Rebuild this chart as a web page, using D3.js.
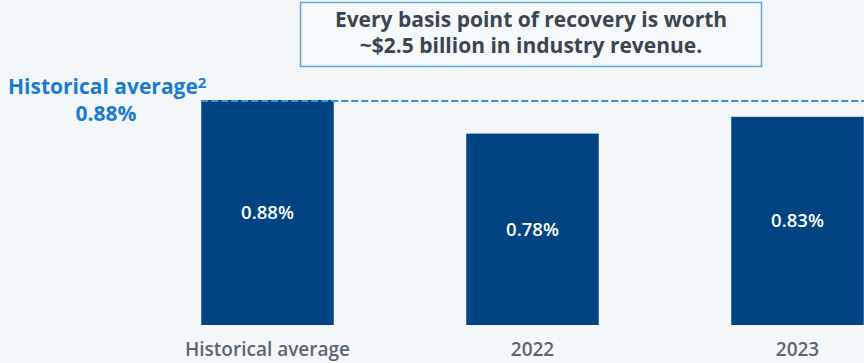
<!DOCTYPE html>
<html>
<head>
<meta charset="utf-8">
<script src="https://cdn.jsdelivr.net/npm/d3@7"></script>
<style>
  html, body { margin: 0; padding: 0; background: #f4f7fa; }
  svg { display: block; font-family: "Open Sans", Lato, sans-serif; }
</style>
</head>
<body>
<svg id="chart" width="864" height="363"></svg>
<script>
// Fee rate by period (percent)
const categories = ["Historical average", "2022", "2023"];
const values = [0.88, 0.78, 0.83];
const valueLabels = ["0.88%", "0.78%", "0.83%"];
const referenceValue = 0.88;
const referenceLabel = "0.88%";
const calloutLines = ["Every basis point of recovery is worth", "~$2.5 billion in industry revenue."];

const svg = d3.select("#chart");
const W = 864, H = 363;

const x = d3.scaleBand()
  .domain(categories)
  .range([135, 930])
  .paddingInner(0.5)
  .paddingOuter(0.25);

// truncated value axis, baseline sits at the bottom of the bars
const y = d3.scaleLinear().domain([0.21, 0.88]).range([325, 100]);

const barColor = "#004482";

// bars
svg.selectAll("rect.bar")
  .data(values)
  .join("rect")
  .attr("class", "bar")
  .attr("x", (d, i) => x(categories[i]))
  .attr("y", d => y(d))
  .attr("width", x.bandwidth())
  .attr("height", d => y.range()[0] - y(d))
  .attr("fill", barColor);

// value labels centered in bars
svg.selectAll("text.val")
  .data(values)
  .join("text")
  .attr("class", "val")
  .attr("x", (d, i) => x(categories[i]) + x.bandwidth() / 2)
  .attr("y", d => (y(d) + y.range()[0]) / 2)
  .attr("dy", "0.35em")
  .attr("text-anchor", "middle")
  .attr("fill", "#ffffff")
  .attr("font-weight", 600)
  .attr("font-size", 18.5)
  .text((d, i) => valueLabels[i]);

// category axis labels
svg.selectAll("text.cat")
  .data(categories)
  .join("text")
  .attr("class", "cat")
  .attr("x", d => x(d) + x.bandwidth() / 2)
  .attr("y", 356)
  .attr("text-anchor", "middle")
  .attr("fill", "#5a6570")
  .attr("font-weight", 600)
  .attr("font-size", 19)
  .text(d => d);

// historical average reference line
svg.append("line")
  .attr("x1", x(categories[0]))
  .attr("x2", W)
  .attr("y1", y(referenceValue) + 1)
  .attr("y2", y(referenceValue) + 1)
  .attr("stroke", "#3b90d8")
  .attr("stroke-width", 2)
  .attr("stroke-dasharray", "7,3");

// reference label
const refText = svg.append("text")
  .attr("x", 8)
  .attr("y", 94)
  .attr("fill", "#1a7bcf")
  .attr("font-weight", 700)
  .attr("font-size", 21);
refText.append("tspan").text("Historical average");
refText.append("tspan").attr("font-size", 15).attr("dy", -6).text("2");

svg.append("text")
  .attr("x", 106)
  .attr("y", 121)
  .attr("text-anchor", "middle")
  .attr("fill", "#1a7bcf")
  .attr("font-weight", 700)
  .attr("font-size", 21)
  .text(referenceLabel);

// callout box
svg.append("rect")
  .attr("x", 300.5)
  .attr("y", 2.5)
  .attr("width", 461)
  .attr("height", 64)
  .attr("fill", "#f6f9fb")
  .attr("stroke", "#5da5dc")
  .attr("stroke-width", 1.5);

svg.selectAll("text.callout")
  .data(calloutLines)
  .join("text")
  .attr("class", "callout")
  .attr("x", 531)
  .attr("y", (d, i) => 27 + i * 26)
  .attr("text-anchor", "middle")
  .attr("fill", "#3b4550")
  .attr("font-weight", 700)
  .attr("font-size", 21)
  .text(d => d);
</script>
</body>
</html>
